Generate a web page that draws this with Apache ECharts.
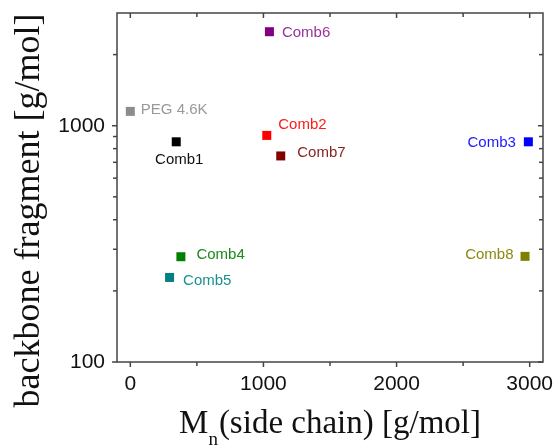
<!DOCTYPE html>
<html><head><meta charset="utf-8">
<script src="https://cdn.jsdelivr.net/npm/echarts@6/dist/echarts.min.js"></script>
<style>html,body{margin:0;padding:0;background:#fff}#c{width:557px;height:446px}</style>
</head><body><div id="c"></div>
<script>
const names = ['PEG 4.6K','Comb1','Comb2','Comb3','Comb4','Comb5','Comb6','Comb7','Comb8'];
const sideChainMn = [0, 345, 1025, 2990, 380, 295, 1045, 1130, 2965];
const backboneFragment = [1150, 855, 910, 855, 279, 228, 2500, 745, 280];
const xTickLabels = [0, 1000, 2000, 3000];
const xMinorTicks = [500, 1500, 2500];
const yTickLabels = [100, 1000];
const yMinorTicks = [200, 300, 400, 500, 600, 700, 800, 900, 2000];

const markerColors = ['#8c8c8c','#000000','#ff0000','#0000ff','#008000','#008080','#800080','#800000','#808000'];
const labelColors = ['#999999','#111111','#ff1a1a','#1a1aff','#1a8a1a','#1a9090','#993399','#8b2222','#8a8a10'];
const labelPos = [
  {position:'right', distance:6, offset:[0,-2]},
  {position:'bottom', distance:6, offset:[3,0]},
  {position:'right', distance:7, offset:[0,-11]},
  {position:'left', distance:8, offset:[0,1]},
  {position:'right', distance:11, offset:[0,-2]},
  {position:'right', distance:9, offset:[0,3]},
  {position:'right', distance:8, offset:[0,1]},
  {position:'right', distance:12, offset:[0,-3]},
  {position:'left', distance:7, offset:[0,-1]}
];

const X_MIN = -100, X_MAX = 3100, Y_MIN = 100, Y_MAX = 3000;
const AXIS_COLOR = '#444';
const SERIF = 'Liberation Serif, Times New Roman, serif';
const SANS = 'Liberation Sans, Arial, sans-serif';

const pointData = names.map((n, i) => ({
  name: n,
  value: [sideChainMn[i], backboneFragment[i]],
  itemStyle: {color: markerColors[i], opacity: 1},
  label: Object.assign({show:true, formatter:n, color:labelColors[i], opacity:1,
    fontFamily:SANS, fontSize:15}, labelPos[i])
}));

function tickData(vals, len, axis) {
  return vals.map(v => axis === 'x' ? [v, 1000, len] : [1000, v, len]);
}

const chart = echarts.init(document.getElementById('c'), null, {renderer:'canvas'});
chart.setOption({
  animation:false,
  backgroundColor:'#fff',
  grid:{left:117, right:14, top:13, bottom:84, containLabel:false, outerBoundsMode:'none',
    show:true, borderColor:AXIS_COLOR, borderWidth:1.5, backgroundColor:'transparent'},
  xAxis:{
    type:'value', min:X_MIN, max:X_MAX,
    axisLine:{show:false}, axisTick:{show:false}, splitLine:{show:false},
    axisLabel:{customValues:xTickLabels, formatter:v => String(v), fontFamily:SANS, fontSize:21, color:'#111', margin:12},
    name:'M{sub|n}(side chain) [g/mol]', nameLocation:'middle', nameGap:37,
    nameTextStyle:{fontFamily:SERIF, fontSize:33, color:'#111',
      rich:{sub:{fontFamily:SERIF, fontSize:19, color:'#111', padding:[32,1,0,0]}}}
  },
  yAxis:{
    type:'log', logBase:10, min:Y_MIN, max:Y_MAX,
    axisLine:{show:false}, axisTick:{show:false}, splitLine:{show:false}, minorTick:{show:false},
    axisLabel:{customValues:yTickLabels, formatter:v => String(v), fontFamily:SANS, fontSize:21, color:'#111', margin:12},
    name:'backbone fragment [g/mol]', nameLocation:'middle', nameGap:62,
    nameTextStyle:{fontFamily:SERIF, fontSize:36, color:'#111', padding:[0,46,0,0]}
  },
  series:[
    {
      type:'custom', silent:true, clip:false, z:1,
      data: tickData(xTickLabels, 5, 'x').concat(tickData(xMinorTicks, 4, 'x')),
      renderItem:(params, api) => {
        const v = api.value(0), len = api.value(2);
        const b = api.coord([v, Y_MIN]), t = api.coord([v, Y_MAX]);
        return {type:'group', children:[
          {type:'line', shape:{x1:b[0], y1:b[1], x2:b[0], y2:b[1]+len}, style:{stroke:AXIS_COLOR, lineWidth:1.5}},
          {type:'line', shape:{x1:t[0], y1:t[1], x2:t[0], y2:t[1]+len}, style:{stroke:AXIS_COLOR, lineWidth:1.5}}
        ]};
      }
    },
    {
      type:'custom', silent:true, clip:false, z:1,
      data: tickData(yTickLabels, 5, 'y').concat(tickData(yMinorTicks, 4, 'y')),
      renderItem:(params, api) => {
        const v = api.value(1), len = api.value(2);
        const l = api.coord([X_MIN, v]), r = api.coord([X_MAX, v]);
        return {type:'group', children:[
          {type:'line', shape:{x1:l[0], y1:l[1], x2:l[0]-len, y2:l[1]}, style:{stroke:AXIS_COLOR, lineWidth:1.5}},
          {type:'line', shape:{x1:r[0], y1:r[1], x2:r[0]-len, y2:r[1]}, style:{stroke:AXIS_COLOR, lineWidth:1.5}}
        ]};
      }
    },
    {
      type:'scatter', symbol:'rect', symbolSize:9, z:3,
      itemStyle:{opacity:1},
      data: pointData
    }
  ]
});
</script>
</body></html>
